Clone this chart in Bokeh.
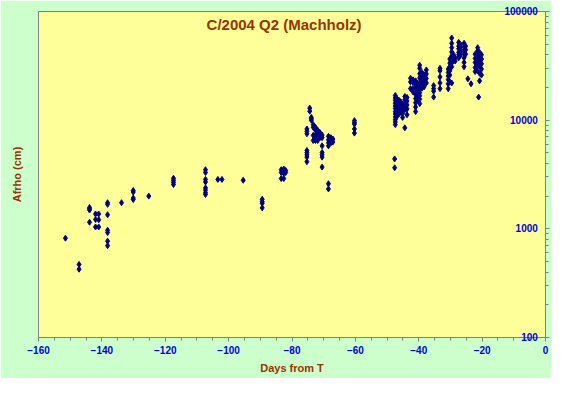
from bokeh.plotting import figure
from bokeh.models import (Range1d, LogAxis, FixedTicker, SingleIntervalTicker,
                          ColumnDataSource, Label)
from bokeh.embed import file_html
from bokeh.resources import INLINE

# ---- data ----
title_text = "C/2004 Q2 (Machholz)"
x_label = "Days from T"
y_label = "Afrho (cm)"

group_days = [-151.5, -147.2, -143.9, -142.0, -141.0, -138.2, -133.8, -130.1, -125.2,
              -117.4, -107.3, -103.4, -102.1, -95.4, -89.4, -83.4, -82.6, -82.0,
              -75.3, -74.4, -73.9, -73.3, -72.6, -71.9, -71.2, -70.5, -68.5, -67.7,
              -67.1, -60.3, -47.6, -47.4, -46.9, -46.3, -45.7, -45.1, -44.4, -43.7,
              -42.6, -41.8, -41.0, -40.4, -39.7, -39.0, -38.3, -37.6, -35.3, -33.3,
              -30.7, -30.2, -29.6, -29.1, -28.5, -27.4, -26.9, -25.7, -25.2, -24.5,
              -23.5, -22.2, -21.4, -21.1, -20.8, -20.2]

group_afrho = [
    [820], [470, 425], [1570, 1530, 1490, 1150], [1370, 1220, 1040], [1370, 1210, 1040],
    [1740, 1680, 1350, 970, 925, 770, 700], [1740], [2250, 2180, 1920, 1860], [2000],
    [2920, 2800, 2680, 2560], [3500, 3300, 2850, 2700, 2380, 2270, 2150, 2070],
    [2850], [2850], [2800], [1870, 1780, 1720, 1560], [3500, 3300, 2900],
    [3550, 3400, 3250, 2900], [3450, 3300],
    [8300, 7900, 7500, 5250, 5050, 4800, 4570, 4150], [12900, 12100],
    [10600, 10300, 10000], [9100, 8600, 7250, 6500], [8600, 8100, 7250, 6800, 6500],
    [8100, 7700, 7250, 6500], [7700, 7250, 6900],
    [7300, 6900, 5800, 5050, 4800, 4570, 3700], [7100, 6600, 6200, 5800, 2600, 2330],
    [6900, 6500, 6200], [6700, 6300], [9900, 9500, 9200, 8300, 7600],
    [4400, 3650],
    [16900, 16000, 15200, 14300, 13500, 12800, 12000, 11400, 10700, 10100, 9600, 9100],
    [15800, 14700, 13600, 12500, 11600, 10800], [15300, 14300, 13200, 12300, 11400],
    [14800, 13800, 12600, 11800], [14100, 13300, 12400, 11500, 10600],
    [16500, 15400, 13900, 12500, 8500], [16200, 15000, 13800, 12700, 11200],
    [24300, 22500, 19500], [23500, 22300, 19600, 18200],
    [23000, 21300, 19600, 17200, 15800, 14500, 13200, 12000],
    [22000, 20500, 19400, 17800, 16500, 15300],
    [32000, 30000, 26800, 24500, 22200, 19800, 17900, 16800, 15600, 14200],
    [27500, 25000, 23200, 21300, 19700], [26200, 24000, 22500, 20300],
    [29000, 26600, 24200, 22000], [20800, 19500, 18500, 16300],
    [30000, 28500, 25000, 22000, 19500],
    [29500, 27500, 25500, 23600, 21600, 19500],
    [36500, 33500, 31000, 28500, 26000, 22500],
    [57000, 51000, 46500, 42500, 39000, 36000, 33500, 31000, 22000],
    [40500, 38000, 35500], [37500, 35000],
    [52000, 48000, 45500, 42000, 40000, 37500], [50000, 46500, 43000, 39500],
    [51000, 47500, 44000, 41000, 37500, 34000, 31000], [48000, 44500, 40500],
    [24000], [21600], [40500, 37000, 34000, 30500, 28000],
    [46500, 43500, 40000, 36500, 32500, 28500], [16300],
    [42000, 38500, 35000, 31500, 27000, 23000], [40000, 36500, 33000, 29500, 26000],
]

x_ticks = [-160, -140, -120, -100, -80, -60, -40, -20, 0]
y_ticks = [100, 1000, 10000, 100000]
y_tick_labels = ["100", "1000", "10000", "100000"]

days = [d for d, vals in zip(group_days, group_afrho) for _ in vals]
afrho = [v for vals in group_afrho for v in vals]

# ---- styling ----
GREEN = "#CCFFCC"
YELLOW = "#FFFF99"
DARKRED = "#993300"
BLUE = "#0000DD"
NAVY = "#000080"
AXIS_GREY = "#808080"
FONT = "Liberation Sans"

p = figure(width=551, height=378, output_backend="svg", toolbar_location=None,
           x_range=Range1d(x_ticks[0], x_ticks[-1]), y_range=Range1d(y_ticks[0], y_ticks[-1]),
           y_axis_type="log", y_axis_location="right",
           min_border_left=38, min_border_right=6, min_border_top=11, min_border_bottom=41)

p.background_fill_color = YELLOW
p.border_fill_color = GREEN
p.outline_line_color = AXIS_GREY
p.grid.visible = False

# x axis
xa = p.xaxis[0]
xa.ticker = SingleIntervalTicker(interval=20, num_minor_ticks=4)
xa.axis_label = x_label
xa.axis_label_text_font = FONT
xa.axis_label_text_font_style = "bold"
xa.axis_label_text_font_size = "11px"
xa.axis_label_text_color = DARKRED
xa.axis_label_standoff = 5
xa.major_label_text_font = FONT
xa.major_label_text_font_style = "bold"
xa.major_label_text_font_size = "10px"
xa.major_label_text_color = BLUE
xa.major_label_standoff = 4
xa.axis_line_color = AXIS_GREY
xa.major_tick_line_color = AXIS_GREY
xa.minor_tick_line_color = AXIS_GREY
xa.major_tick_in = 0
xa.major_tick_out = 4
xa.minor_tick_in = 0
xa.minor_tick_out = 3

# right y axis: labels placed inside the plot area, right-aligned by padding
# each label to six digit widths with pairs of no-break spaces
ya = p.yaxis[0]
minor = [m * 10 ** e for e in (2, 3, 4) for m in range(2, 10)]
ya.ticker = FixedTicker(ticks=y_ticks, minor_ticks=minor)
width_digits = max(len(s) for s in y_tick_labels)
ya.major_label_overrides = {
    t: "\u00a0\u00a0" * (width_digits - len(s)) + s for t, s in zip(y_ticks, y_tick_labels)
}
ya.major_label_text_font = FONT
ya.major_label_text_font_style = "bold"
ya.major_label_text_font_size = "10px"
ya.major_label_text_color = BLUE
ya.major_label_standoff = -45
ya.axis_line_color = AXIS_GREY
ya.major_tick_line_color = AXIS_GREY
ya.minor_tick_line_color = AXIS_GREY
ya.major_tick_in = 0
ya.major_tick_out = 4
ya.minor_tick_in = 0
ya.minor_tick_out = 3

# left axis just for the axis title
la = LogAxis(ticker=FixedTicker(ticks=[y_ticks[0]]), axis_label=y_label)
la.axis_line_color = None
la.major_tick_line_color = None
la.major_tick_out = 0
la.major_tick_in = 0
la.minor_tick_out = 0
la.minor_tick_in = 0
la.major_label_text_font_size = "1px"
la.major_label_text_color = None
la.major_label_standoff = 0
la.axis_label_standoff = 16
la.axis_label_text_font = FONT
la.axis_label_text_font_style = "bold"
la.axis_label_text_font_size = "11px"
la.axis_label_text_color = DARKRED
p.add_layout(la, "left")

# data points
src = ColumnDataSource(dict(day=days, afrho=afrho))
p.scatter(x="day", y="afrho", source=src, marker="diamond", size=6,
          fill_color=NAVY, line_color=NAVY)

# title inside the plot area
p.add_layout(Label(x=-82.5, y=76400, text=title_text, text_align="center",
                   text_baseline="middle", text_font=FONT, text_font_style="bold",
                   text_font_size="15px", text_color=DARKRED))

open("out.html", "w").write(file_html(p, INLINE))
